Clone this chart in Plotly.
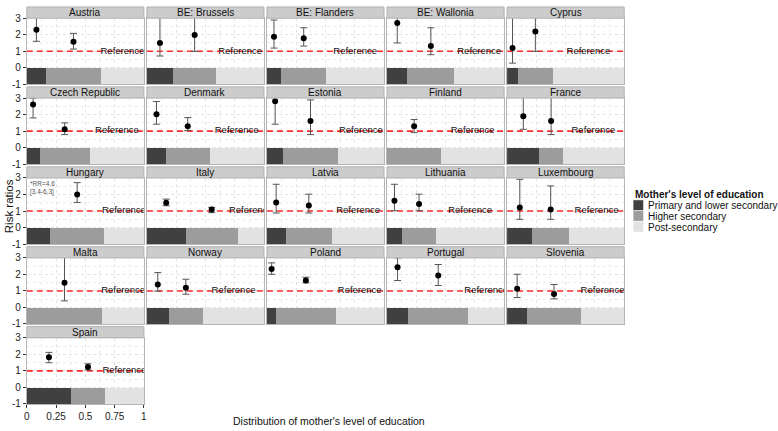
import plotly.graph_objects as go

# ---------------- data ----------------
countries = ["Austria", "BE: Brussels", "BE: Flanders", "BE: Wallonia", "Cyprus",
             "Czech Republic", "Denmark", "Estonia", "Finland", "France",
             "Hungary", "Italy", "Latvia", "Lithuania", "Luxembourg",
             "Malta", "Norway", "Poland", "Portugal", "Slovenia", "Spain"]

share_primary = [0.164, 0.223, 0.120, 0.175, 0.093, 0.107, 0.164, 0.140, 0.000, 0.277,
                 0.200, 0.330, 0.158, 0.127, 0.217, 0.000, 0.186, 0.080, 0.180, 0.172, 0.378]
share_higher = [0.469, 0.370, 0.388, 0.399, 0.297, 0.433, 0.370, 0.464, 0.463, 0.198,
                0.460, 0.447, 0.399, 0.293, 0.311, 0.644, 0.294, 0.505, 0.515, 0.458, 0.289]
share_post = [0.367, 0.407, 0.492, 0.426, 0.610, 0.460, 0.466, 0.396, 0.537, 0.525,
              0.340, 0.223, 0.443, 0.580, 0.472, 0.356, 0.520, 0.415, 0.305, 0.370, 0.333]

rr_primary = [2.30, 1.50, 1.88, 2.71, 1.19, 2.61, 2.02, 2.81, None, 1.90,
              4.6, 1.50, 1.52, 1.62, 1.22, None, 1.39, 2.33, 2.43, 1.13, 1.82]
lo_primary = [1.60, 0.71, 1.19, 1.50, 0.28, 1.80, 1.42, 1.42, None, 1.11,
              3.4, 1.32, 0.88, 1.02, 0.50, None, 0.99, 2.01, 1.63, 0.60, 1.49]
hi_primary = [3.05, 4.00, 2.89, 3.80, 3.50, 3.00, 2.79, 3.90, None, 3.30,
              6.3, 1.72, 2.62, 2.62, 2.92, None, 2.11, 2.70, 3.00, 2.01, 2.12]

rr_higher = [1.58, 1.98, 1.78, 1.31, 2.20, 1.11, 1.30, 1.62, 1.30, 1.62,
             2.00, 1.10, 1.34, 1.42, 1.10, 1.49, 1.19, 1.63, 1.93, 0.82, 1.23]
lo_higher = [1.13, 0.99, 1.31, 0.79, 0.99, 0.79, 1.03, 0.79, 0.91, 0.79,
             1.52, 0.90, 0.88, 1.02, 0.50, 0.40, 0.80, 1.49, 1.33, 0.52, 1.05]
hi_higher = [2.08, 3.60, 2.42, 2.42, 3.60, 1.50, 1.82, 2.89, 1.70, 3.40,
             2.72, 1.22, 2.02, 2.02, 2.52, 3.10, 1.71, 1.83, 2.60, 1.39, 1.43]

reference_rr = 1
reference_label = "Reference"
education_levels = ["Primary and lower secondary", "Higher secondary", "Post-secondary"]
level_colors = ["#404040", "#9c9c9c", "#e2e2e2"]

x_ticks = [0, 0.25, 0.5, 0.75, 1]
x_tick_labels = ["0", "0.25", "0.5", "0.75", "1"]
y_ticks = [-1, 0, 1, 2, 3]
y_tick_labels = ["-1", "0", "1", "2", "3"]
x_minor = [0.125, 0.375, 0.625, 0.875]
y_minor = [-0.5, 0.5, 1.5, 2.5]
Y_RANGE = [-1, 3]

x_title = "Distribution of mother's level of education"
y_title = "Risk ratios"
legend_title = "Mother's level of education"

# ---------------- layout geometry (pixels) ----------------
W, H = 778, 431
NCOL = 5
PANEL_W = 118
COL_STEP = 121
LEFT0 = 24
ROW_STEP = 82
STRIP_TOP0 = 1
STRIP_H = 11.5
PLOT_H = 67.8
FONT = "Liberation Sans, Arial, sans-serif"


def px_x(p):
    return p / W


def px_y(p):
    return 1 - p / H


fig = go.Figure()
shapes = []
annotations = []
layout_axes = {}

for i, name in enumerate(countries):
    r, c = divmod(i, NCOL)
    k = i + 1
    xa = "x" if k == 1 else f"x{k}"
    ya = "y" if k == 1 else f"y{k}"
    left = LEFT0 + COL_STEP * c
    right = left + PANEL_W
    strip_top = STRIP_TOP0 + ROW_STEP * r
    strip_bot = strip_top + STRIP_H
    plot_bot = strip_bot + PLOT_H

    is_left = c == 0
    is_bottom = i == len(countries) - 1

    layout_axes["xaxis" if k == 1 else f"xaxis{k}"] = dict(
        domain=[px_x(left), px_x(right)], anchor=ya, range=[0, 1],
        tickmode="array", tickvals=x_ticks, ticktext=x_tick_labels,
        showticklabels=is_bottom, ticks="outside" if is_bottom else "",
        ticklen=3, tickcolor="#333333", tickfont=dict(size=10, color="#222222", family=FONT),
        showgrid=True, gridcolor="#e3e3e3", griddash="dot", gridwidth=1,
        minor=dict(tickmode="array", tickvals=x_minor, showgrid=True,
                   gridcolor="#ececec", griddash="dot", ticks=""),
        zeroline=False, showline=True, mirror=True, linecolor="#b5b5b5", linewidth=1,
        fixedrange=True,
    )
    layout_axes["yaxis" if k == 1 else f"yaxis{k}"] = dict(
        domain=[px_y(plot_bot), px_y(strip_bot)], anchor=xa, range=Y_RANGE,
        tickmode="array", tickvals=y_ticks, ticktext=y_tick_labels,
        showticklabels=is_left, ticks="outside" if is_left else "",
        ticklen=3, tickcolor="#333333", tickfont=dict(size=10, color="#222222", family=FONT),
        showgrid=True, gridcolor="#e3e3e3", griddash="dot", gridwidth=1,
        minor=dict(tickmode="array", tickvals=y_minor, showgrid=True,
                   gridcolor="#ececec", griddash="dot", ticks=""),
        zeroline=False, showline=True, mirror=True, linecolor="#b5b5b5", linewidth=1,
        fixedrange=True,
    )

    # stacked distribution bar (y from -1 to 0)
    shares = [share_primary[i], share_higher[i], share_post[i]]
    base = 0.0
    mids = []
    for s, col in zip(shares, level_colors):
        mids.append(base + s / 2)
        if s > 0:
            fig.add_trace(go.Bar(
                x=[s], y=[-0.5], base=[base], width=[1], orientation="h",
                marker=dict(color=col, line=dict(width=0)),
                xaxis=xa, yaxis=ya, showlegend=False, hoverinfo="skip"))
        base += s

    # reference line
    fig.add_trace(go.Scatter(
        x=[0, 1], y=[reference_rr, reference_rr], mode="lines",
        line=dict(color="#ff2b2b", width=1.6, dash="6px,4px"),
        xaxis=xa, yaxis=ya, showlegend=False, hoverinfo="skip"))

    # reference label at centre of post-secondary segment
    fig.add_trace(go.Scatter(
        x=[mids[2]], y=[reference_rr], mode="text", text=[reference_label],
        textposition="middle center", cliponaxis=True,
        textfont=dict(size=9.5, color="#111111", family=FONT),
        xaxis=xa, yaxis=ya, showlegend=False, hoverinfo="skip"))

    # risk ratio points
    px_, py_, ep, em = [], [], [], []
    for rr, lo, hi, m in ((rr_primary[i], lo_primary[i], hi_primary[i], mids[0]),
                          (rr_higher[i], lo_higher[i], hi_higher[i], mids[1])):
        if rr is None:
            continue
        if rr > Y_RANGE[1]:
            annotations.append(dict(
                xref=xa, yref=ya, x=0.01, y=2.97, xanchor="left", yanchor="top",
                text=f"*RR={rr}<br>[{lo}-{hi}]", showarrow=False, align="left",
                font=dict(size=6.5, color="#555555", family=FONT)))
            continue
        px_.append(m)
        py_.append(rr)
        ep.append(hi - rr)
        em.append(rr - lo)
    if px_:
        fig.add_trace(go.Scatter(
            x=px_, y=py_, mode="markers", cliponaxis=True,
            marker=dict(color="black", size=6),
            error_y=dict(type="data", array=ep, arrayminus=em, color="#555555",
                         thickness=1, width=3.5),
            xaxis=xa, yaxis=ya, showlegend=False, hoverinfo="skip"))

    # facet strip
    shapes.append(dict(type="rect", xref="paper", yref="paper",
                       x0=px_x(left), x1=px_x(right), y0=px_y(strip_bot), y1=px_y(strip_top),
                       fillcolor="#cccccc", line=dict(color="#b0b0b0", width=1), layer="above"))
    annotations.append(dict(xref="paper", yref="paper", x=px_x((left + right) / 2),
                            y=px_y((strip_top + strip_bot) / 2), xanchor="center", yanchor="middle",
                            text=name, showarrow=False,
                            font=dict(size=10, color="#111111", family=FONT)))

# axis titles
annotations.append(dict(xref="paper", yref="paper", x=px_x(329), y=px_y(425.5),
                        xanchor="center", yanchor="middle", text=x_title, showarrow=False,
                        font=dict(size=10.5, color="#111111", family=FONT)))
annotations.append(dict(xref="paper", yref="paper", x=px_x(5.5), y=px_y(205),
                        xanchor="center", yanchor="middle", text=y_title, showarrow=False,
                        textangle=-90, font=dict(size=11.5, color="#111111", family=FONT)))

# manual legend
annotations.append(dict(xref="paper", yref="paper", x=px_x(635), y=px_y(193.3),
                        xanchor="left", yanchor="middle", text=f"<b>{legend_title}</b>",
                        showarrow=False, font=dict(size=10, color="#111111", family=FONT)))
for j, (lab, col) in enumerate(zip(education_levels, level_colors)):
    top = 199 + 11 * j
    shapes.append(dict(type="rect", xref="paper", yref="paper",
                       x0=px_x(635), x1=px_x(645.5), y0=px_y(top + 11), y1=px_y(top),
                       fillcolor=col, line=dict(color="#ffffff", width=0.5)))
    annotations.append(dict(xref="paper", yref="paper", x=px_x(647.5), y=px_y(top + 5.8),
                            xanchor="left", yanchor="middle", text=lab, showarrow=False,
                            font=dict(size=10, color="#111111", family=FONT)))

fig.update_layout(
    width=W, height=H, autosize=False,
    margin=dict(l=0, r=0, t=0, b=0, pad=0),
    paper_bgcolor="white", plot_bgcolor="white",
    barmode="overlay", bargap=0,
    showlegend=False,
    shapes=shapes, annotations=annotations,
    font=dict(family=FONT),
    **layout_axes,
)

fig.write_html("out.html", config={"displayModeBar": False},
               post_script="document.body.style.margin='0px';")
